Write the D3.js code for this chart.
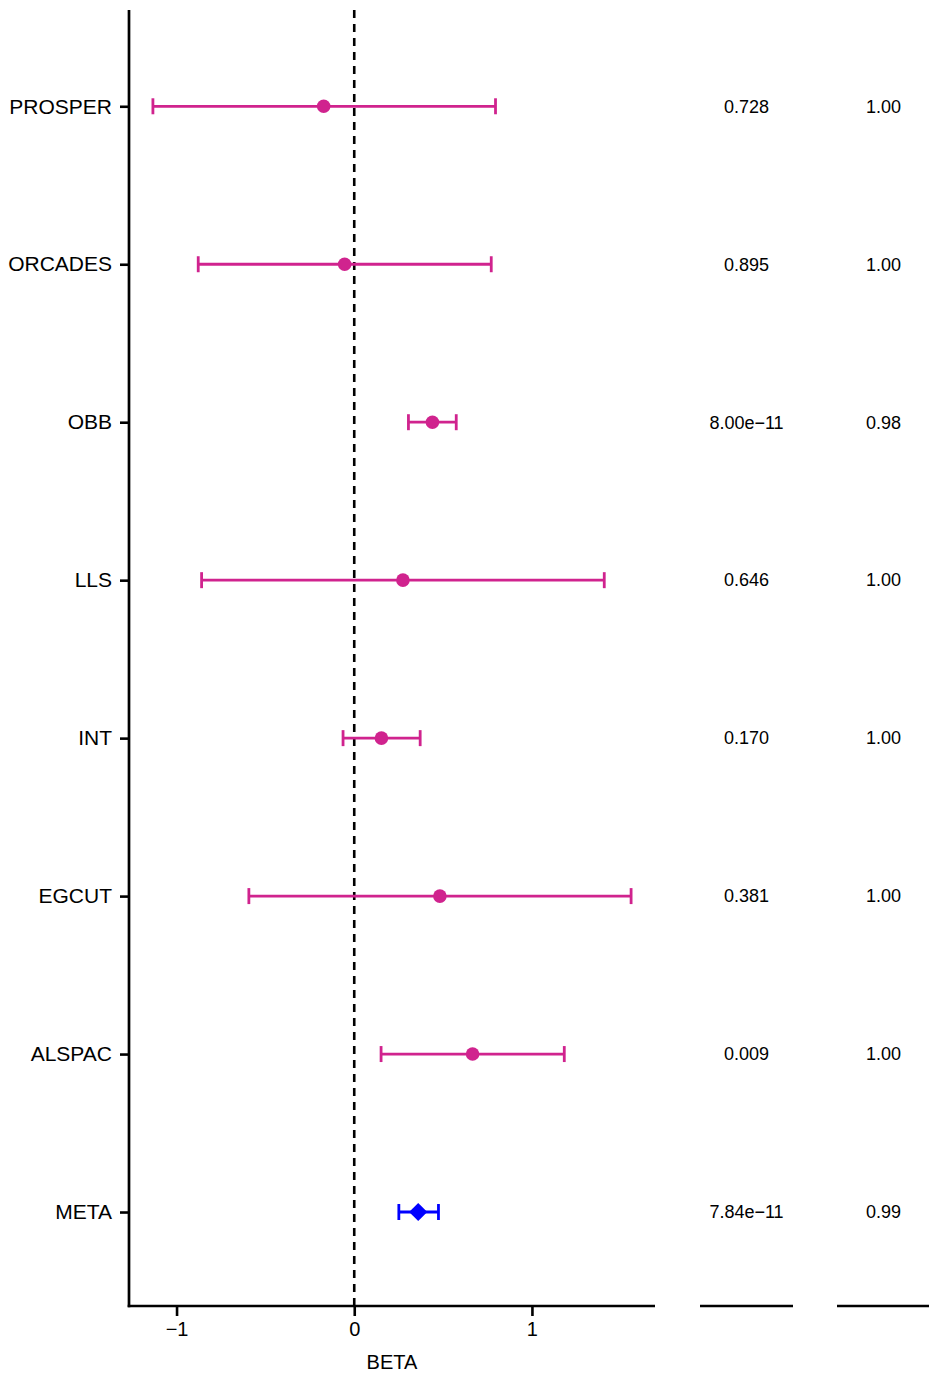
<!DOCTYPE html>
<html>
<head>
<meta charset="utf-8">
<script src="https://cdn.jsdelivr.net/npm/d3@7"></script>
<style>
  html, body { margin: 0; padding: 0; background: #fff; }
  svg { display: block; font-family: "Liberation Sans", Arial, Helvetica, sans-serif; }
</style>
</head>
<body>
<svg id="chart" width="929" height="1373"></svg>
<script>
// ---- data ----
const studies = ["PROSPER", "ORCADES", "OBB", "LLS", "INT", "EGCUT", "ALSPAC", "META"];
const beta    = [-0.172, -0.054, 0.440, 0.274, 0.153, 0.482, 0.666, 0.360];
const ciLow   = [-1.133, -0.878, 0.305, -0.859, -0.063, -0.593, 0.151, 0.251];
const ciHigh  = [0.795, 0.771, 0.574, 1.407, 0.371, 1.558, 1.182, 0.474];
const pvals   = ["0.728", "0.895", "8.00e\u221211", "0.646", "0.170", "0.381", "0.009", "7.84e\u221211"];
const col3    = ["1.00", "1.00", "0.98", "1.00", "1.00", "1.00", "1.00", "0.99"];
const isMeta  = [false, false, false, false, false, false, false, true];
const xTicks  = [-1, 0, 1];
const xLabel  = "BETA";

(function () {
const rows = studies.map((s, i) => ({ s, b: beta[i], lo: ciLow[i], hi: ciHigh[i], p: pvals[i], c: col3[i], meta: isMeta[i] }));

const svg = d3.select("#chart");
const plotTop = 10, plotBottom = 1306;
const mainL = 129, mainR = 655;
const p1L = 700, p1R = 793;
const p2L = 837, p2R = 930;
const pink = "#D0238E", blue = "#0000FF";

// y scale (discrete with 0.6 expansion, ggplot-like)
const y = d3.scalePoint().domain(studies).range([plotTop + 1.5, plotBottom + 0.8]).padding(0.6);

// x scale with 5% expansion
const mn = d3.min(ciLow), mx = d3.max(ciHigh);
const ext = (mx - mn) * 0.05;
const x = d3.scaleLinear().domain([mn - ext, mx + ext]).range([mainL, mainR]);

// zero reference line
svg.append("line")
  .attr("x1", x(0)).attr("x2", x(0))
  .attr("y1", plotTop).attr("y2", plotBottom)
  .attr("stroke", "#000").attr("stroke-width", 2.6)
  .attr("stroke-dasharray", "8,6");

// error bars
const capH = 8;
const g = svg.append("g");
rows.forEach(r => {
  const col = r.meta ? blue : pink;
  const yy = y(r.s);
  g.append("line").attr("x1", x(r.lo)).attr("x2", x(r.hi)).attr("y1", yy).attr("y2", yy)
    .attr("stroke", col).attr("stroke-width", 2.8);
  [r.lo, r.hi].forEach(v => {
    g.append("line").attr("x1", x(v)).attr("x2", x(v)).attr("y1", yy - capH).attr("y2", yy + capH)
      .attr("stroke", col).attr("stroke-width", 2.8);
  });
  if (r.meta) {
    g.append("path")
      .attr("d", d3.symbol().type(d3.symbolDiamond2).size(210)())
      .attr("transform", `translate(${x(r.b)},${yy})`)
      .attr("fill", col);
  } else {
    g.append("circle").attr("cx", x(r.b)).attr("cy", yy).attr("r", 6.8).attr("fill", col);
  }
});

// y axis
const yAxis = svg.append("g").attr("transform", `translate(${mainL},0)`)
  .call(d3.axisLeft(y).tickSize(9).tickPadding(8));
yAxis.select(".domain").remove();
yAxis.selectAll(".tick line").attr("stroke", "#000").attr("stroke-width", 2.6);
yAxis.selectAll(".tick text").attr("font-size", 21).attr("fill", "#000")
  .attr("font-family", "'Liberation Sans', Arial, sans-serif");
svg.append("line").attr("x1", mainL).attr("x2", mainL).attr("y1", plotTop).attr("y2", plotBottom + 1.3)
  .attr("stroke", "#000").attr("stroke-width", 2.7);

// x axis
const xAxis = svg.append("g").attr("transform", `translate(0,${plotBottom})`)
  .call(d3.axisBottom(x).tickValues(xTicks).tickSize(10).tickPadding(6)
    .tickFormat(d => d < 0 ? "\u2212" + Math.abs(d) : String(d)));
xAxis.select(".domain").remove();
xAxis.selectAll(".tick line").attr("stroke", "#000").attr("stroke-width", 2.6);
xAxis.selectAll(".tick text").attr("font-size", 20).attr("fill", "#000")
  .attr("font-family", "'Liberation Sans', Arial, sans-serif");
svg.append("line").attr("x1", mainL - 1.3).attr("x2", mainR).attr("y1", plotBottom).attr("y2", plotBottom)
  .attr("stroke", "#000").attr("stroke-width", 2.7);

svg.append("text").attr("x", (mainL + mainR) / 2).attr("y", 1369)
  .attr("text-anchor", "middle").attr("font-size", 20).attr("fill", "#000").text(xLabel);

// side panels
[[p1L, p1R, "p"], [p2L, p2R, "c"]].forEach(([l, r, key]) => {
  svg.append("line").attr("x1", l).attr("x2", r).attr("y1", plotBottom).attr("y2", plotBottom)
    .attr("stroke", "#000").attr("stroke-width", 2.7);
  svg.append("g").selectAll("text").data(rows).join("text")
    .attr("x", (l + r) / 2).attr("y", d => y(d.s))
    .attr("dy", "0.35em")
    .attr("text-anchor", "middle").attr("font-size", 18).attr("fill", "#000")
    .text(d => d[key]);
});
})();
</script>
</body>
</html>
